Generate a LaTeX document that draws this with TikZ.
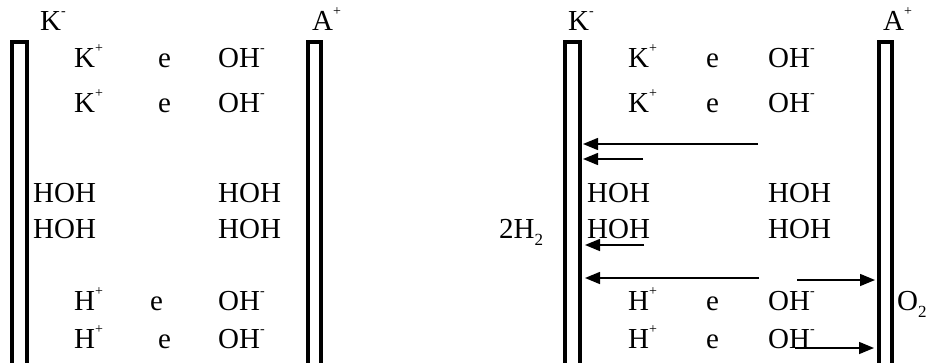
\documentclass[tikz,border=0pt]{standalone}
\usepackage{fontspec}
\setmainfont{Liberation Serif}
\usetikzlibrary{arrows.meta}
\newcommand{\ionsup}[1]{\raisebox{0.5em}{\fontsize{14}{14}\selectfont #1}}
\begin{document}
\begin{tikzpicture}[x=1pt,y=-1pt,
  txt/.style={anchor=base west,inner sep=0pt,font=\fontsize{29}{34}\selectfont},
  bar/.style={draw=black,line width=4pt,fill=white},
  arr/.style={line width=1.5pt,-{Triangle[length=15pt,width=12pt]}}]
\useasboundingbox (0,0) rectangle (929,362);
% electrodes
\draw[bar] (12,42) rectangle (27,370);
\draw[bar] (308,42) rectangle (321,370);
\draw[bar] (565,42) rectangle (580,370);
\draw[bar] (879,42) rectangle (892,370);
% left panel
\node[txt] (lK) at (40,30) {K\ionsup{-}};
\node[txt] (lA) at (312,30) {A\ionsup{+}};
\node[txt] (lK1) at (74,67) {K\ionsup{+}};
\node[txt] (le1) at (158,67) {e};
\node[txt] (lO1) at (218,67) {OH\ionsup{-}};
\node[txt] (lK2) at (74,112) {K\ionsup{+}};
\node[txt] (le2) at (158,112) {e};
\node[txt] (lO2) at (218,112) {OH\ionsup{-}};
\node[txt] (lW1) at (33,202) {HOH};
\node[txt] (lW2) at (218,202) {HOH};
\node[txt] (lW3) at (33,238) {HOH};
\node[txt] (lW4) at (218,238) {HOH};
\node[txt] (lH1) at (74,310) {H\ionsup{+}};
\node[txt] (le3) at (150,310) {e};
\node[txt] (lO3) at (218,310) {OH\ionsup{-}};
\node[txt] (lH2) at (74,348) {H\ionsup{+}};
\node[txt] (le4) at (158,348) {e};
\node[txt] (lO4) at (218,348) {OH\ionsup{-}};
% right panel
\node[txt] (rK) at (568,30) {K\ionsup{-}};
\node[txt] (rA) at (883,30) {A\ionsup{+}};
\node[txt] (rK1) at (628,67) {K\ionsup{+}};
\node[txt] (re1) at (706,67) {e};
\node[txt] (rO1) at (768,67) {OH\ionsup{-}};
\node[txt] (rK2) at (628,112) {K\ionsup{+}};
\node[txt] (re2) at (706,112) {e};
\node[txt] (rO2) at (768,112) {OH\ionsup{-}};
\node[txt] (rW1) at (587,202) {HOH};
\node[txt] (rW2) at (768,202) {HOH};
\node[txt] (rW3) at (587,238) {HOH};
\node[txt] (rW4) at (768,238) {HOH};
\node[txt] (h2) at (499,238) {2H\raisebox{-0.25em}{\fontsize{17}{17}\selectfont 2}};
\node[txt] (rH1) at (628,310) {H\ionsup{+}};
\node[txt] (re3) at (706,310) {e};
\node[txt] (rO3) at (768,310) {OH\ionsup{-}};
\node[txt] (rH2) at (628,348) {H\ionsup{+}};
\node[txt] (re4) at (706,348) {e};
\node[txt] (rO4) at (768,348) {OH\ionsup{-}};
\node[txt] (o2) at (897,310) {O\raisebox{-0.25em}{\fontsize{17}{17}\selectfont 2}};
% arrows
\coordinate (a1s) at (758,144); \coordinate (a1e) at (583,144);
\coordinate (a2s) at (643,159); \coordinate (a2e) at (583,159);
\coordinate (a3s) at (644,245); \coordinate (a3e) at (585,245);
\coordinate (a4s) at (759,278); \coordinate (a4e) at (585,278);
\coordinate (a5s) at (797,280); \coordinate (a5e) at (875,280);
\coordinate (a6s) at (795,348); \coordinate (a6e) at (874,348);
\draw[arr] (a1s) -- (a1e);
\draw[arr] (a2s) -- (a2e);
\draw[arr] (a3s) -- (a3e);
\draw[arr] (a4s) -- (a4e);
\draw[arr] (a5s) -- (a5e);
\draw[arr] (a6s) -- (a6e);
\end{tikzpicture}
\end{document}
